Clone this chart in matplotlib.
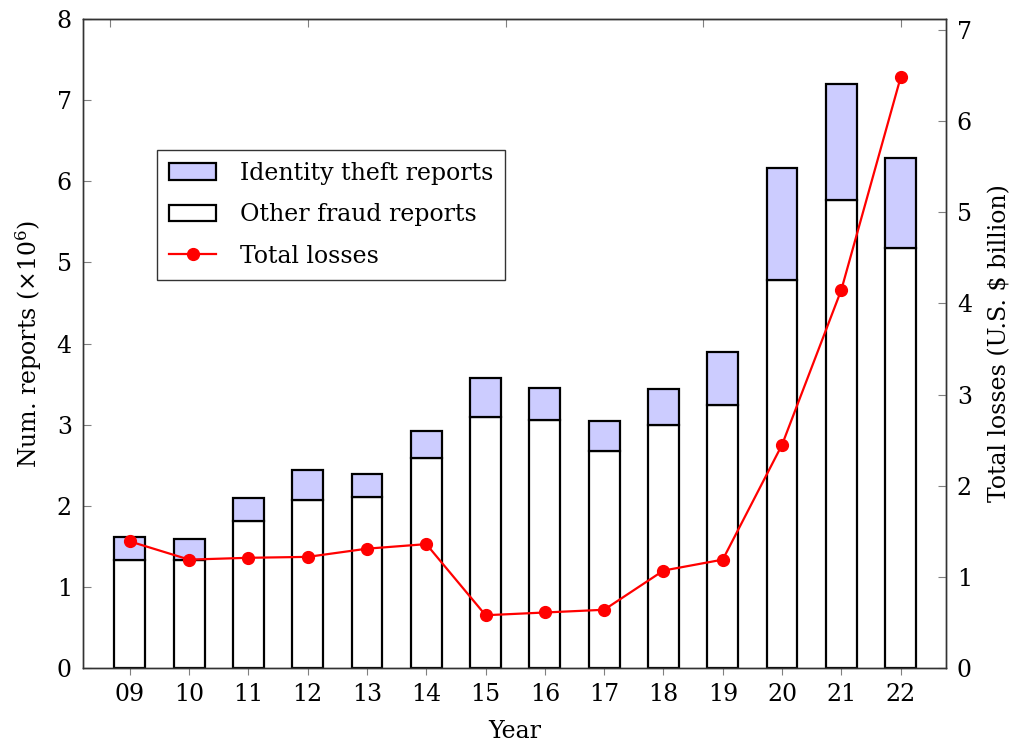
import matplotlib
matplotlib.use('Agg')
import matplotlib.pyplot as plt
import numpy as np

# reports per year (millions) and losses (US$ billion)
years = ['09', '10', '11', '12', '13', '14', '15', '16', '17', '18', '19', '20', '21', '22']
other_fraud = [1.33, 1.33, 1.81, 2.07, 2.11, 2.59, 3.09, 3.06, 2.68, 3.00, 3.24, 4.78, 5.77, 5.18]
identity_theft = [0.28, 0.26, 0.29, 0.37, 0.28, 0.33, 0.49, 0.39, 0.37, 0.44, 0.65, 1.38, 1.43, 1.11]
total_losses = [1.39, 1.19, 1.21, 1.22, 1.31, 1.36, 0.58, 0.61, 0.64, 1.07, 1.19, 2.45, 4.15, 6.48]

plt.rcParams['font.family'] = 'DejaVu Serif'
plt.rcParams['mathtext.fontset'] = 'dejavuserif'
plt.rcParams['font.size'] = 17

fig = plt.figure(figsize=(10.18, 7.44), dpi=100)
ax = fig.add_axes([0.0815, 0.102, 0.8475, 0.8725])
x = np.arange(len(years))
w = 0.52

b1 = ax.bar(x, other_fraud, w, color='white', edgecolor='black', linewidth=1.6, zorder=2)
b2 = ax.bar(x, identity_theft, w, bottom=other_fraud, color='#ccccff',
            edgecolor='black', linewidth=1.6, zorder=2)

ax.set_xlim(-0.79, 13.76)
ax.set_ylim(0, 8)
ax.set_xticks(x)
ax.set_xticklabels(years)
ax.set_yticks(range(0, 9))
ax.set_xlabel('Year', labelpad=10)
ax.set_ylabel(r'Num. reports ($\times 10^6$)', labelpad=9)
ax.tick_params(axis='y', direction='in', length=6, color='gray', width=0.8, pad=8)
ax.tick_params(axis='x', direction='out', length=5, color='gray', width=0.8, pad=6)
for s in ax.spines.values():
    s.set_color('#333333')
    s.set_linewidth(1.0)

top = ax.secondary_xaxis('top')
top.set_xticks([-0.34, 3.0, 6.34, 9.67, 13.0])
top.set_xticklabels([])
top.tick_params(direction='in', length=6, color='gray', width=0.8)

ax2 = ax.twinx()
l1, = ax2.plot(x, total_losses, color='red', linewidth=1.6, marker='o',
               markersize=8.5, zorder=3)
ax2.set_ylim(0, 7.12)
ax2.set_yticks(range(0, 8))
ax2.set_ylabel('Total losses (U.S. $ billion)', labelpad=12)
ax2.tick_params(axis='y', direction='in', length=6, color='gray', width=0.8, pad=8)
for s in ax2.spines.values():
    s.set_color('#333333')
    s.set_linewidth(1.0)

leg = ax.legend([b2, b1, l1], ['Identity theft reports', 'Other fraud reports', 'Total losses'],
                loc='upper left', bbox_to_anchor=(0.086, 0.798), borderaxespad=0,
                fancybox=False, edgecolor='#333333', framealpha=1,
                handlelength=2.0, handleheight=0.7, handletextpad=1.0,
                borderpad=0.5, labelspacing=0.78)
leg.get_frame().set_linewidth(1.0)
leg.set_zorder(5)

fig.savefig('out.png', dpi=100)
